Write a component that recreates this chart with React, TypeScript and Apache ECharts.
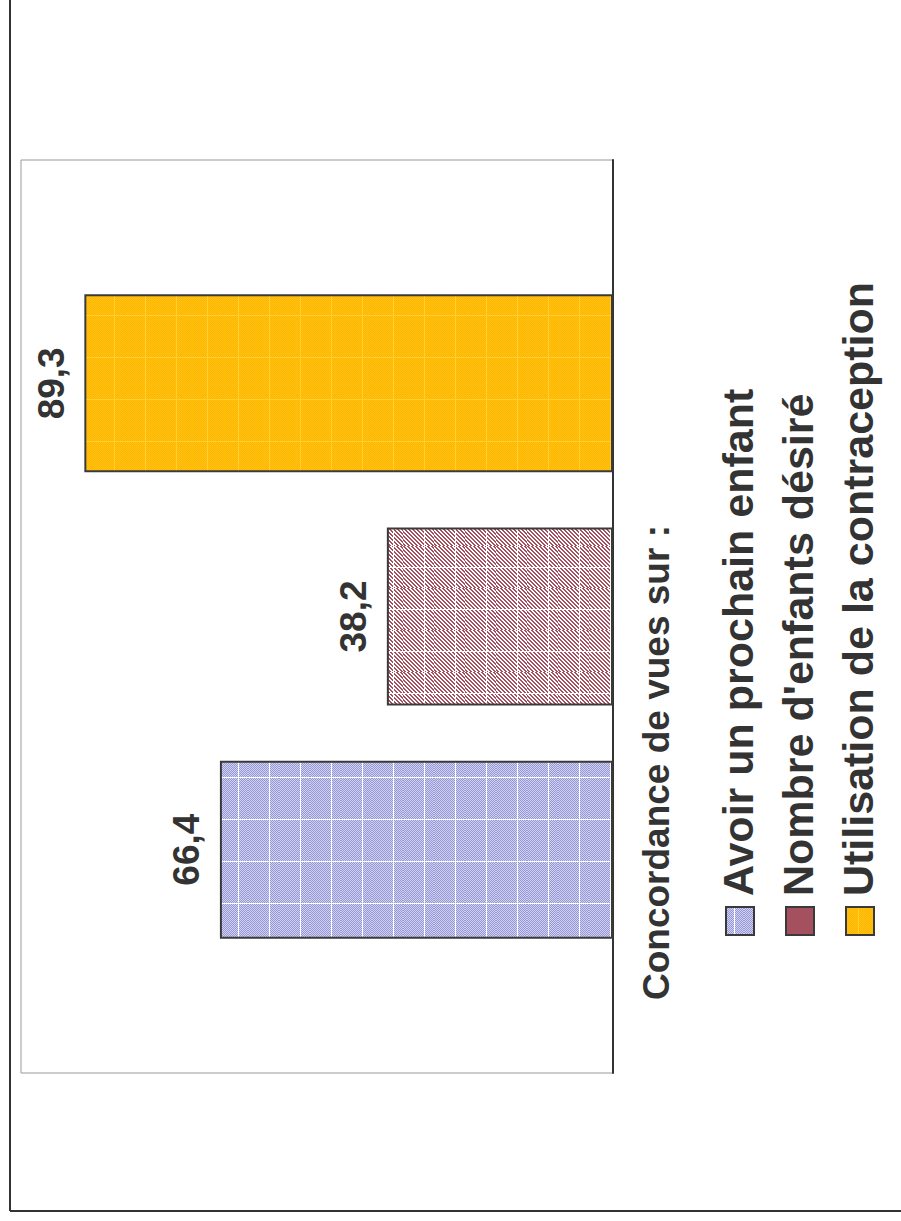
import React, { useEffect, useRef } from 'react';
import * as echarts from 'echarts';

// Single category, three answers compared side by side
const categories = ['Concordance'];
const seriesNames = [
  'Avoir un prochain enfant',
  "Nombre d'enfants désiré",
  'Utilisation de la contraception',
];
const seriesValues = [66.4, 38.2, 89.3];
const legendTitle = 'Concordance de vues sur :';

const TEXT = '#333333';
const FONT = '"Liberation Sans", Arial, sans-serif';

type Kind = 'blue' | 'red' | 'yellow';

// Small textured tile (halftone / hatching) with a light seam line on its edges
function makeTile(kind: Kind): HTMLCanvasElement {
  const w = 31;
  const h = 42;
  const c = document.createElement('canvas');
  c.width = w;
  c.height = h;
  const ctx = c.getContext('2d')!;
  const img = ctx.createImageData(w, h);
  for (let y = 0; y < h; y++) {
    for (let x = 0; x < w; x++) {
      let rgb: number[];
      if (kind === 'blue') {
        rgb = (x + y) % 2 === 0 ? [0x98, 0x98, 0xd4] : [0xd0, 0xd0, 0xf0];
      } else if (kind === 'red') {
        rgb = ((x - y) % 4 + 4) % 4 < 2 ? [0xa6, 0x4f, 0x5f] : [0xff, 0xff, 0xff];
      } else {
        rgb = (x + y) % 2 === 0 ? [0xff, 0xb6, 0x00] : [0xff, 0xc2, 0x12];
      }
      if (x === 21 || y === 21) {
        rgb = kind === 'yellow' ? [0xff, 0xd0, 0x30] : [0xff, 0xff, 0xff];
      }
      const i = (y * w + x) * 4;
      img.data[i] = rgb[0];
      img.data[i + 1] = rgb[1];
      img.data[i + 2] = rgb[2];
      img.data[i + 3] = 255;
    }
  }
  ctx.putImageData(img, 0, 0);
  return c;
}

const kinds: Kind[] = ['blue', 'red', 'yellow'];
const swatchSolid = ['', '#A4505E', ''];

export default function App() {
  const ref = useRef<HTMLDivElement>(null);

  useEffect(() => {
    if (!ref.current) return;
    const chart = echarts.init(ref.current, undefined, { renderer: 'svg' });

    const fills = kinds.map((k) => ({ image: makeTile(k), repeat: 'repeat' as const }));

    // Horizontal groups stack series from the bottom up, so the last answer goes first
    const series = seriesNames
      .map((name, i) => ({
        name,
        type: 'bar' as const,
        data: [seriesValues[i]],
        barWidth: 178,
        barGap: '31%',
        itemStyle: {
          color: fills[i] as any,
          borderColor: '#3a3a3a',
          borderWidth: 2,
        },
        label: {
          show: true,
          position: 'left' as const,
          distance: 33,
          rotate: 90,
          align: 'center' as const,
          verticalAlign: 'middle' as const,
          fontFamily: FONT,
          fontWeight: 'bold' as const,
          fontSize: 37,
          color: TEXT,
          formatter: (p: any) => String(p.value).replace('.', ','),
        },
      }))
      .reverse();

    // Rotated legend: swatch then label, one column per series
    const legendCols = [738, 798, 858];
    const legendEls: any[] = [];
    seriesNames.forEach((name, i) => {
      legendEls.push({
        type: 'rect',
        shape: { x: legendCols[i] - 12, y: 907, width: 28, height: 28 },
        style: {
          fill: swatchSolid[i] || (fills[i] as any),
          stroke: '#3a3a3a',
          lineWidth: 2,
        },
      });
      legendEls.push({
        type: 'text',
        x: legendCols[i],
        y: 896,
        rotation: Math.PI / 2,
        style: {
          text: name,
          font: `bold 43px ${FONT}`,
          fill: TEXT,
          align: 'left',
          verticalAlign: 'middle',
        },
      });
    });

    chart.setOption({
      animation: false,
      backgroundColor: '#ffffff',
      grid: {
        left: 21,
        top: 160,
        width: 592,
        height: 913,
        show: true,
        borderColor: '#999999',
        borderWidth: 1,
        backgroundColor: 'transparent',
      },
      xAxis: {
        type: 'value',
        min: 0,
        max: 100,
        inverse: true,
        axisLabel: { show: false },
        axisLine: { show: false },
        axisTick: { show: false },
        splitLine: { show: false },
      },
      yAxis: {
        type: 'category',
        data: categories,
        position: 'right',
        axisLine: { show: true, lineStyle: { color: '#333333', width: 2 } },
        axisTick: { show: false },
        axisLabel: { show: false },
      },
      series,
      graphic: [
        {
          type: 'line',
          shape: { x1: 10, y1: 0, x2: 10, y2: 1211 },
          style: { stroke: '#333333', lineWidth: 2 },
        },
        {
          type: 'line',
          shape: { x1: 10, y1: 1211, x2: 901, y2: 1211 },
          style: { stroke: '#333333', lineWidth: 2 },
        },
        {
          type: 'text',
          x: 656,
          y: 1000,
          rotation: Math.PI / 2,
          style: {
            text: legendTitle,
            font: `bold 37px ${FONT}`,
            fill: TEXT,
            align: 'left',
            verticalAlign: 'middle',
          },
        },
        ...legendEls,
      ],
    });

    return () => chart.dispose();
  }, []);

  return (
    <div
      ref={ref}
      style={{ position: 'fixed', left: 0, top: 0, width: 901, height: 1221, background: '#fff' }}
    />
  );
}
